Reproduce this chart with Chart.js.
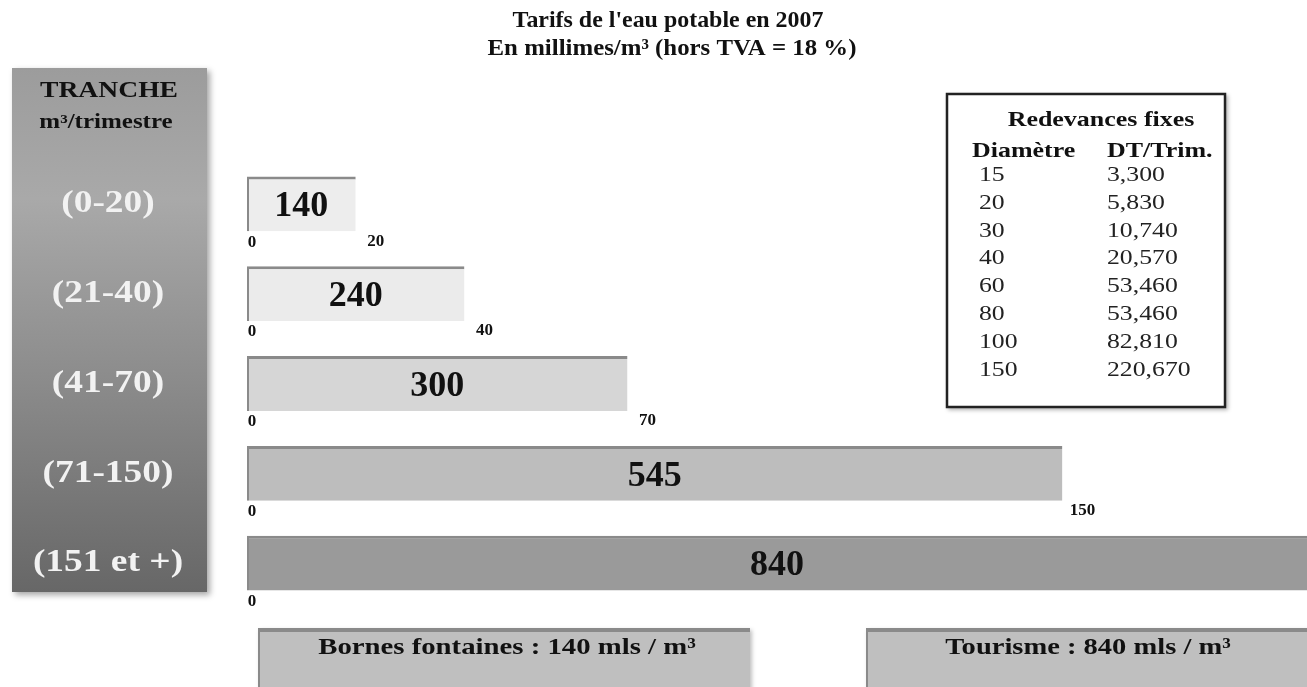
<!DOCTYPE html>
<html><head><meta charset="utf-8">
<script src="https://cdn.jsdelivr.net/npm/chart.js@4.4.0/dist/chart.umd.min.js"></script>
<style>html,body{margin:0;padding:0;background:#fff;overflow:hidden}#wrap{width:1307px;height:687px;position:relative}</style>
</head><body><div id="wrap"><canvas id="c" width="1307" height="687"></canvas></div>
<script>
// ---- data ----
const titleLines = ["Tarifs de l'eau potable en 2007", "En millimes/m³ (hors TVA = 18 %)"];
const panelHeader = ["TRANCHE", "m³/trimestre"];
const tranches = ["(0-20)", "(21-40)", "(41-70)", "(71-150)", "(151 et +)"];
const trancheStart = [0, 0, 0, 0, 0];
const trancheEnd = [20, 40, 70, 150, null]; // null = open-ended tranche
const tarifs = [140, 240, 300, 545, 840];
const barColors = ["#ededed", "#ebebeb", "#d6d6d6", "#bdbdbd", "#9a9a9a"];
const redevTitle = "Redevances fixes";
const redevHeaders = ["Diamètre", "DT/Trim."];
const diametres = ["15", "20", "30", "40", "60", "80", "100", "150"];
const dtTrim = ["3,300", "5,830", "10,740", "20,570", "53,460", "53,460", "82,810", "220,670"];
const notes = ["Bornes fontaines : 140 mls / m³", "Tourisme : 840 mls / m³"];
const xMax = 195;

const SERIF = "'Liberation Serif','DejaVu Serif',serif";
function txt(ctx, s, x, y, font, color, align, sx) {
  ctx.save();
  ctx.font = font; ctx.fillStyle = color; ctx.textAlign = align || 'center'; ctx.textBaseline = 'middle';
  ctx.translate(x, y); ctx.scale(sx || 1, 1); ctx.fillText(s, 0, 0);
  ctx.restore();
}
function shadedBox(ctx, x, y, w, h, fill, edge) {
  ctx.save();
  ctx.shadowColor = 'rgba(0,0,0,0.25)'; ctx.shadowBlur = 4; ctx.shadowOffsetX = 2; ctx.shadowOffsetY = 2;
  ctx.fillStyle = fill; ctx.fillRect(x, y, w, h);
  ctx.restore();
  ctx.fillStyle = edge; ctx.fillRect(x, y, w, 4); ctx.fillRect(x, y, 2, h);
}

const decor = {
  id: 'decor',
  beforeDatasetsDraw(chart) {
    const ctx = chart.ctx;
    const ys = chart.scales.y;
    // title
    txt(ctx, titleLines[0], 668, 21, "bold 23px " + SERIF, '#111', 'center', 1.04);
    txt(ctx, titleLines[1], 672, 49, "bold 23px " + SERIF, '#111', 'center', 1.08);
    // left panel
    ctx.save();
    ctx.shadowColor = 'rgba(0,0,0,0.35)'; ctx.shadowBlur = 6; ctx.shadowOffsetX = 3; ctx.shadowOffsetY = 3;
    const g = ctx.createLinearGradient(0, 68, 0, 592);
    g.addColorStop(0, '#9c9c9c'); g.addColorStop(0.25, '#a9a9a9'); g.addColorStop(0.6, '#8b8b8b'); g.addColorStop(1, '#676767');
    ctx.fillStyle = g; ctx.fillRect(12, 68, 195, 524);
    ctx.restore();
    txt(ctx, panelHeader[0], 109, 91, "bold 24px " + SERIF, '#111', 'center', 1.15);
    txt(ctx, panelHeader[1], 106, 123, "bold 20px " + SERIF, '#111', 'center', 1.25);
    tranches.forEach((t, i) => {
      txt(ctx, t, 108, ys.getPixelForValue(i), "bold 32px " + SERIF, '#f2f2f2', 'center', 1.17);
    });
    // fixed-fee table
    ctx.save();
    ctx.shadowColor = 'rgba(0,0,0,0.3)'; ctx.shadowBlur = 4; ctx.shadowOffsetX = 2; ctx.shadowOffsetY = 2;
    ctx.fillStyle = '#fff'; ctx.fillRect(946, 93, 280, 315);
    ctx.restore();
    ctx.strokeStyle = '#222'; ctx.lineWidth = 2.5; ctx.strokeRect(947, 94, 278, 313);
    txt(ctx, redevTitle, 1101, 120, "bold 22px " + SERIF, '#111', 'center', 1.18);
    txt(ctx, redevHeaders[0], 972, 151, "bold 22px " + SERIF, '#111', 'left', 1.18);
    txt(ctx, redevHeaders[1], 1107, 151, "bold 22px " + SERIF, '#111', 'left', 1.18);
    diametres.forEach((d, i) => {
      const y = 175 + i * 27.9;
      txt(ctx, d, 979, y, "22px " + SERIF, '#222', 'left', 1.17);
      txt(ctx, dtTrim[i], 1107, y, "22px " + SERIF, '#222', 'left', 1.17);
    });
    // bottom notes
    shadedBox(ctx, 258, 628, 492, 70, '#bfbfbf', '#8a8a8a');
    shadedBox(ctx, 866, 628, 450, 70, '#bfbfbf', '#8a8a8a');
    txt(ctx, notes[0], 507, 648, "bold 23px " + SERIF, '#111', 'center', 1.25);
    txt(ctx, notes[1], 1088, 648, "bold 23px " + SERIF, '#111', 'center', 1.24);
  },
  afterDatasetsDraw(chart) {
    const ctx = chart.ctx;
    const meta = chart.getDatasetMeta(0);
    meta.data.forEach((bar, i) => {
      const p = bar.getProps(['x', 'y', 'base', 'height'], true);
      const bottom = p.y + p.height / 2;
      txt(ctx, String(tarifs[i]), (p.x + p.base) / 2, p.y + 3, "bold 36px " + SERIF, '#111', 'center', 1.0);
      txt(ctx, String(trancheStart[i]), p.base + 5, bottom + 11, "bold 17px " + SERIF, '#111', 'center', 1.0);
      if (trancheEnd[i] !== null) {
        txt(ctx, String(trancheEnd[i]), p.x + 20, bottom + 10, "bold 17px " + SERIF, '#111', 'center', 1.0);
      }
    });
  }
};

new Chart(document.getElementById('c'), {
  type: 'bar',
  data: {
    labels: tranches,
    datasets: [{
      data: tranches.map((t, i) => [trancheStart[i], trancheEnd[i] === null ? xMax : trancheEnd[i]]),
      backgroundColor: barColors,
      borderColor: '#8a8a8a',
      borderWidth: { top: 3, left: 2, right: 0, bottom: 0 },
      borderSkipped: false,
      barPercentage: 0.61,
      categoryPercentage: 1
    }]
  },
  options: {
    indexAxis: 'y',
    responsive: false,
    animation: false,
    layout: { padding: { left: 247, top: 159, right: 0, bottom: 79 } },
    plugins: { legend: { display: false }, tooltip: { enabled: false }, title: { display: false } },
    scales: {
      x: { type: 'linear', min: 0, max: xMax, display: false },
      y: { type: 'category', display: false }
    }
  },
  plugins: [decor]
});
</script>
</body></html>
